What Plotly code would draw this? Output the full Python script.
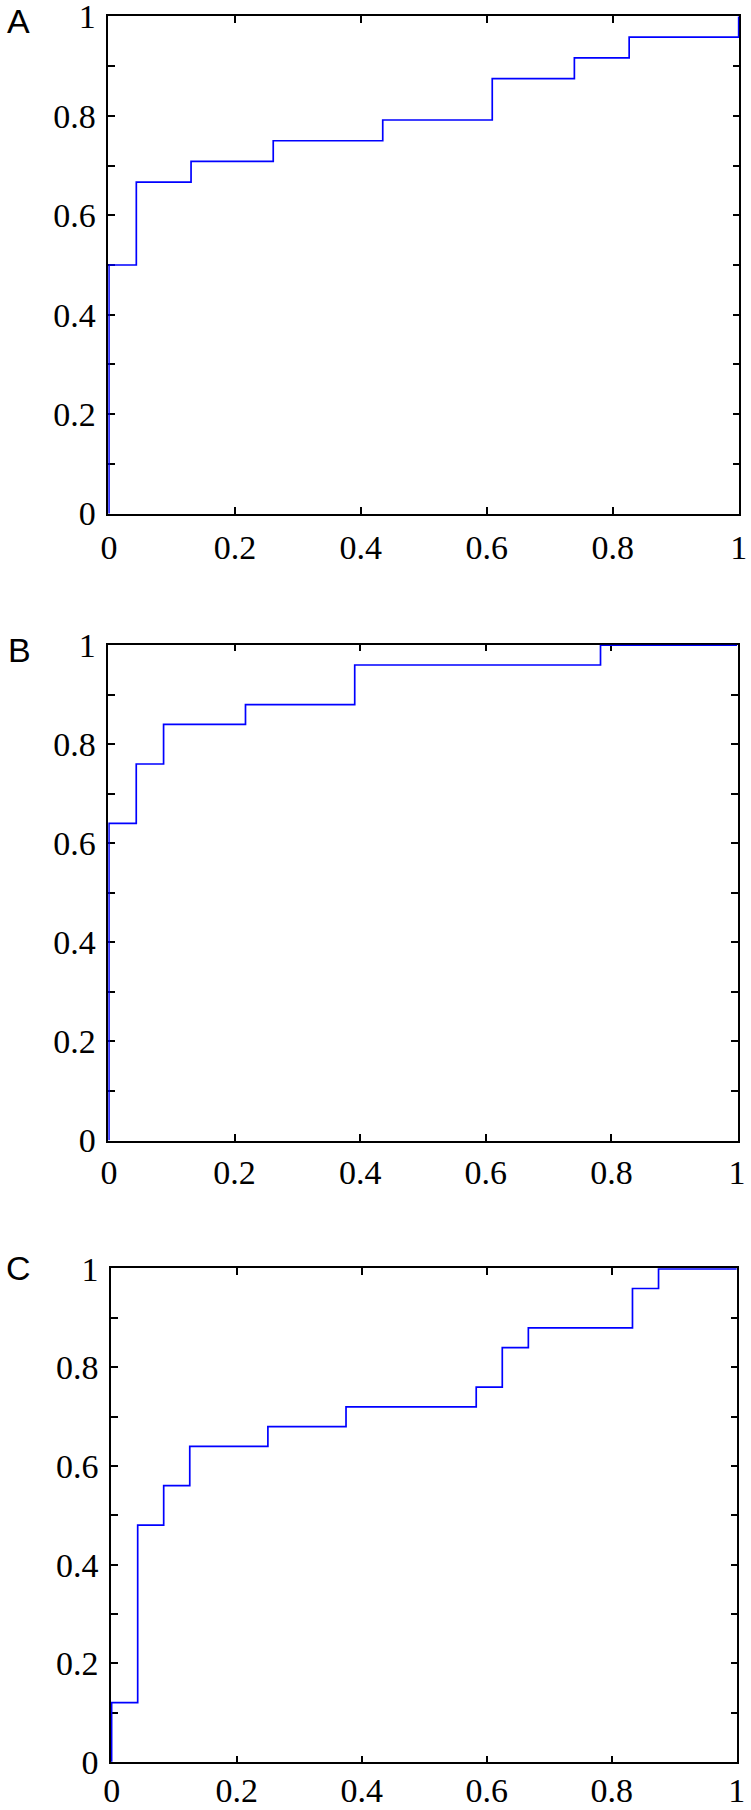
import plotly.graph_objects as go

# ---- data ----
a_x = [0, 0, 0.0435, 0.1304, 0.2609, 0.4348, 0.6087, 0.7391, 0.8261, 1.0]
a_y = [0, 0.50, 0.6667, 0.7083, 0.75, 0.7917, 0.875, 0.9167, 0.9583, 1.0]

b_x = [0, 0, 0.0435, 0.0870, 0.2174, 0.3913, 0.7826, 1.0]
b_y = [0, 0.64, 0.76, 0.84, 0.88, 0.96, 1.0, 1.0]

c_x = [0, 0, 0.0417, 0.0833, 0.125, 0.25, 0.375, 0.5833, 0.625, 0.6667, 0.8333, 0.875, 1.0]
c_y = [0, 0.12, 0.48, 0.56, 0.64, 0.68, 0.72, 0.76, 0.84, 0.88, 0.96, 1.0, 1.0]

panel_labels = ["A", "B", "C"]
x_tickvals = [0, 0.2, 0.4, 0.6, 0.8, 1]
x_ticktext = ["0", "0.2", "0.4", "0.6", "0.8", "1"]
y_tickvals = [0, 0.1, 0.2, 0.3, 0.4, 0.5, 0.6, 0.7, 0.8, 0.9, 1.0]
y_ticktext = ["0", "", "0.2", "", "0.4", "", "0.6", "", "0.8", "", "1"]

W, H = 751, 1810
# panel boxes in pixels (left, right, top, bottom)
boxes = [(108.3, 739.3, 16.0, 514.0),
         (108.3, 737.7, 644.7, 1140.7),
         (111.0, 737.3, 1268.3, 1762.3)]
x_standoff = [2, 1, -3]
label_pos = [(18.5, 20.5), (19.5, 650.5), (18.5, 1267.5)]

tick_font = dict(family="Liberation Serif, Times New Roman, serif", size=34, color="black")

fig = go.Figure()
series = [(a_x, a_y), (b_x, b_y), (c_x, c_y)]
for i, (xs, ys) in enumerate(series):
    sfx = "" if i == 0 else str(i + 1)
    fig.add_trace(go.Scatter(x=xs, y=ys, mode="lines", line_shape="hv",
                             line=dict(color="#0000FF", width=1.7),
                             xaxis="x" + sfx, yaxis="y" + sfx,
                             showlegend=False, hoverinfo="skip"))
    l, r, t, b = boxes[i]
    common = dict(showline=True, linecolor="black", linewidth=1.5, mirror="ticks",
                  ticks="inside", ticklen=7, tickwidth=1.5, tickcolor="black",
                  showgrid=False, zeroline=False, tickfont=tick_font,
                  layer="below traces", automargin=False, ticklabeloverflow="allow")
    fig.update_layout(**{
        "xaxis" + sfx: dict(domain=[l / W, r / W], range=[-0.001, 1.001],
                            anchor="y" + sfx, tickvals=x_tickvals, ticktext=x_ticktext,
                            ticklabelstandoff=x_standoff[i], **common),
        "yaxis" + sfx: dict(domain=[1 - b / H, 1 - t / H], range=[-0.001, 1.001],
                            anchor="x" + sfx, tickvals=y_tickvals, ticktext=y_ticktext,
                            ticklabelstandoff=4, **common),
    })
    lx, ly = label_pos[i]
    fig.add_annotation(x=lx / W, y=1 - ly / H, xref="paper", yref="paper",
                       text=panel_labels[i], showarrow=False,
                       xanchor="center", yanchor="middle",
                       font=dict(family="Liberation Sans, Arial, sans-serif", size=34, color="black"))

fig.update_layout(width=W, height=H, margin=dict(l=0, r=0, t=0, b=0),
                  plot_bgcolor="white", paper_bgcolor="white")
fig.write_html("out.html", config={"displayModeBar": False},
               post_script="document.body.style.margin='0';document.body.style.overflow='hidden';")
